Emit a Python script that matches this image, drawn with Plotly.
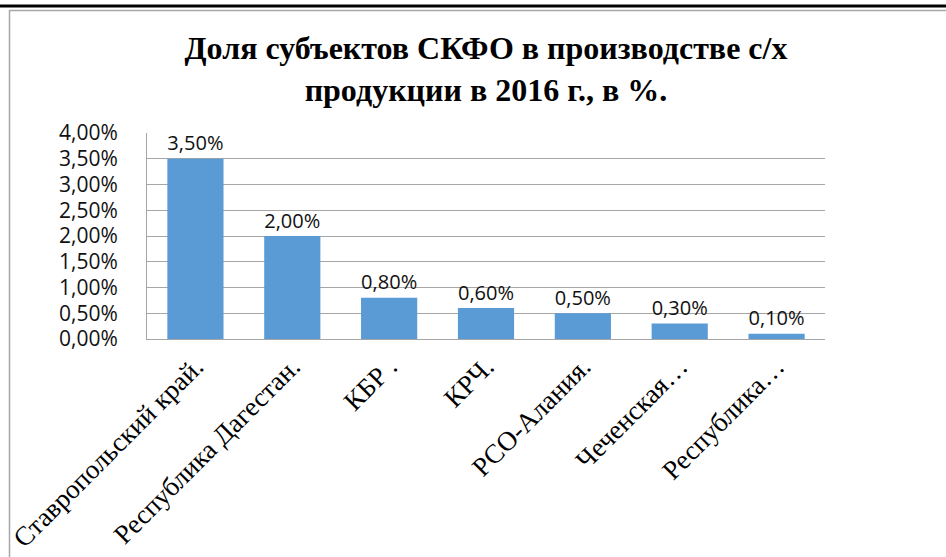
import plotly.graph_objects as go

categories = ["Ставропольский край.", "Республика Дагестан.", "КБР .", "КРЧ.",
              "РСО-Алания.", "Чеченская…", "Республика…"]
values = [3.5, 2.0, 0.8, 0.6, 0.5, 0.3, 0.1]
value_labels = ["3,50%", "2,00%", "0,80%", "0,60%", "0,50%", "0,30%", "0,10%"]
y_ticks = [0, 0.5, 1.0, 1.5, 2.0, 2.5, 3.0, 3.5, 4.0]
y_tick_labels = ["0,00%", "0,50%", "1,00%", "1,50%", "2,00%", "2,50%", "3,00%", "3,50%", "4,00%"]

W, H = 946, 557
L, R, T, B = 147, 121, 133, 218
pw, ph = W - L - R, H - T - B

def px_x(x):
    return (x - L) / pw

def px_y(y):
    return (H - B - y) / ph

fig = go.Figure(go.Bar(
    x=categories, y=values, text=value_labels, textposition="outside",
    textfont=dict(family="Open Sans", size=22, color="#111111"),
    marker=dict(color="#5b9bd5", line=dict(width=0)),
    cliponaxis=False, hoverinfo="skip",
))

fig.update_layout(
    width=W, height=H,
    margin=dict(l=L, r=R, t=T, b=B, autoexpand=False),
    paper_bgcolor="white", plot_bgcolor="white",
    bargap=0.42, showlegend=False,
    title=dict(
        text="<b>Доля субъектов СКФО в производстве с/х<br>продукции в 2016 г., в %.</b>",
        font=dict(family="Liberation Serif", size=32, color="black"),
        x=px_x(486), xref="paper", xanchor="center",
        y=1 - 59 / H, yref="container", yanchor="top", automargin=False,
    ),
    xaxis=dict(
        tickangle=-45, tickfont=dict(family="Liberation Serif", size=27, color="black"),
        showgrid=False, showline=True, linecolor="#a6a6a6", linewidth=1,
        ticks="", zeroline=False, automargin=False,
    ),
    yaxis=dict(
        range=[0, 4.0], tickvals=y_ticks, ticktext=y_tick_labels,
        tickfont=dict(family="Open Sans", size=21, color="#111111"),
        showgrid=True, gridcolor="#a6a6a6", gridwidth=1,
        showline=True, linecolor="#a6a6a6", linewidth=1,
        zeroline=False, ticks="", ticklabelstandoff=24, automargin=False,
    ),
    shapes=[
        dict(type="line", xref="paper", yref="paper",
             x0=px_x(0), x1=px_x(946), y0=px_y(6), y1=px_y(6),
             line=dict(color="black", width=3)),
        dict(type="line", xref="paper", yref="paper",
             x0=px_x(9), x1=px_x(950), y0=px_y(10.5), y1=px_y(10.5),
             line=dict(color="#a6a6a6", width=1.5)),
        dict(type="line", xref="paper", yref="paper",
             x0=px_x(9.5), x1=px_x(9.5), y0=px_y(10), y1=px_y(560),
             line=dict(color="#a6a6a6", width=1.5)),
    ],
)

fig.write_html("out.html", config={"displayModeBar": False},
               post_script="document.body.style.margin='0';document.body.style.overflow='hidden';")
